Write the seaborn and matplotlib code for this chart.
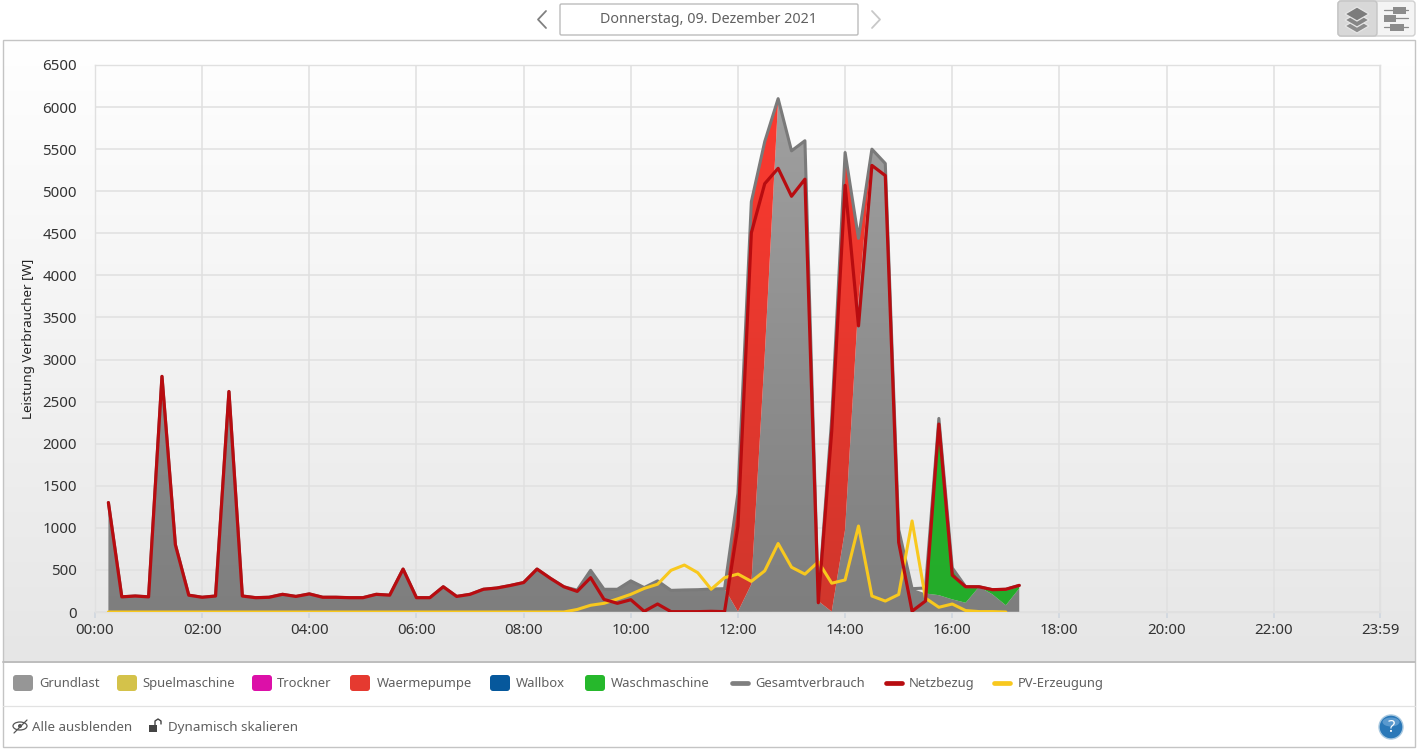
import numpy as np
import pandas as pd
import seaborn as sns
import matplotlib.pyplot as plt
from matplotlib.colors import LinearSegmentedColormap
from matplotlib.patches import FancyBboxPatch, Rectangle, Circle, Polygon, Ellipse

# 15 minute readings, 00:15 - 17:15
times = ["00:15", "00:30", "00:45", "01:00", "01:15", "01:30", "01:45", "02:00",
         "02:15", "02:30", "02:45", "03:00", "03:15", "03:30", "03:45", "04:00",
         "04:15", "04:30", "04:45", "05:00", "05:15", "05:30", "05:45", "06:00",
         "06:15", "06:30", "06:45", "07:00", "07:15", "07:30", "07:45", "08:00",
         "08:15", "08:30", "08:45", "09:00", "09:15", "09:30", "09:45", "10:00",
         "10:15", "10:30", "10:45", "11:00", "11:15", "11:30", "11:45", "12:00",
         "12:15", "12:30", "12:45", "13:00", "13:15", "13:30", "13:45", "14:00",
         "14:15", "14:30", "14:45", "15:00", "15:15", "15:30", "15:45", "16:00",
         "16:15", "16:30", "16:45", "17:00", "17:15"]

netzbezug = [1300, 180, 190, 180, 2800, 800, 200, 175,
             190, 2620, 190, 170, 175, 210, 185, 215,
             175, 175, 170, 170, 210, 200, 510, 170,
             170, 300, 185, 210, 270, 285, 315, 350,
             510, 400, 300, 245, 408, 150, 103, 146,
             8, 95, 4, 4, 4, 8, 4, 1020,
             4506, 5090, 5272, 4940, 5143, 110, 2150, 5070,
             3400, 5307, 5186, 827, 10, 130, 2233, 437,
             300, 300, 265, 270, 316]

gesamt = [1300, 180, 190, 180, 2800, 800, 200, 175,
          190, 2620, 190, 170, 175, 210, 185, 215,
          175, 175, 170, 170, 210, 200, 510, 170,
          170, 300, 185, 210, 270, 285, 315, 350,
          510, 400, 300, 260, 495, 270, 270, 370,
          290, 370, 257, 262, 265, 273, 277, 1410,
          4875, 5590, 6100, 5480, 5600, 130, 2300, 5460,
          4440, 5500, 5330, 980, 277, 285, 2300, 524,
          300, 300, 265, 270, 316]

grundlast = [1300, 180, 190, 180, 2800, 800, 200, 175,
             190, 2620, 190, 170, 175, 210, 185, 215,
             175, 175, 170, 170, 210, 200, 510, 170,
             170, 300, 185, 210, 270, 285, 315, 350,
             510, 400, 300, 260, 495, 270, 270, 370,
             290, 370, 257, 262, 265, 273, 277, 5,
             330, 3050, 6080, 5480, 5600, 130, 5, 980,
             3700, 5500, 5330, 980, 277, 220, 200, 150,
             110, 300, 210, 80, 280]

waermepumpe = [0, 0, 0, 0, 0, 0, 0, 0, 0, 0, 0, 0, 0, 0, 0, 0,
               0, 0, 0, 0, 0, 0, 0, 0, 0, 0, 0, 0, 0, 0, 0, 0,
               0, 0, 0, 0, 0, 0, 0, 0, 0, 0, 0, 0, 0, 0, 0, 1405,
               4545, 2540, 20, 0, 0, 0, 2295, 4480,
               740, 0, 0, 0, 0, 0, 0, 0,
               0, 0, 0, 0, 0]

waschmaschine = [0, 0, 0, 0, 0, 0, 0, 0, 0, 0, 0, 0, 0, 0, 0, 0,
                 0, 0, 0, 0, 0, 0, 0, 0, 0, 0, 0, 0, 0, 0, 0, 0,
                 0, 0, 0, 0, 0, 0, 0, 0, 0, 0, 0, 0, 0, 0, 0, 0,
                 0, 0, 0, 0, 0, 0, 0, 0,
                 0, 0, 0, 0, 0, 65, 2100, 374,
                 190, 0, 55, 190, 36]

# pv stops one reading earlier (17:00)
pv = [0, 0, 0, 0, 0, 0, 0, 0, 0, 0, 0, 0, 0, 0, 0, 0,
      0, 0, 0, 0, 0, 0, 0, 0, 0, 0, 0, 0, 0, 0, 0, 0,
      0, 0, 0, 30, 80, 103, 155, 210, 280, 330, 495, 558,
      467, 270, 408, 451, 364, 489, 814, 532, 450, 597, 342, 381,
      1022, 190, 130, 208, 1082, 165, 56, 95, 17, 5, 5, 0]

y_ticks = [0, 500, 1000, 1500, 2000, 2500, 3000, 3500, 4000, 4500, 5000, 5500, 6000, 6500]
x_tick_labels = ["00:00", "02:00", "04:00", "06:00", "08:00", "10:00", "12:00",
                 "14:00", "16:00", "18:00", "20:00", "22:00", "23:59"]

legend_names = ["Grundlast", "Spuelmaschine", "Trockner", "Waermepumpe", "Wallbox",
                "Waschmaschine", "Gesamtverbrauch", "Netzbezug", "PV-Erzeugung"]
legend_colors = ["#969696", "#d4c24a", "#dc10a8", "#e53a30", "#06589c",
                 "#26b82c", "#7f7f7f", "#b80c10", "#f8c81e"]


def to_min(t):
    h, m = t.split(":")
    return int(h) * 60 + int(m)


def gradient_area(ax, x, low, high, top_col, bottom_col, z):
    # fill_between only gives the outline, the colour is a clipped gradient
    poly = ax.fill_between(x, low, high, facecolor="none", edgecolor="none", zorder=z)
    cmap = LinearSegmentedColormap.from_list("g", [top_col, bottom_col])
    im = ax.imshow(np.linspace(0, 1, 256).reshape(-1, 1), extent=[0, 1439, 0, 6500],
                   aspect="auto", cmap=cmap, origin="upper", zorder=z)
    im.set_clip_path(poly.get_paths()[0], transform=ax.transData)


W, H = 1421, 755
sns.set_theme(style="whitegrid")
plt.rcParams["font.family"] = ["Noto Sans", "DejaVu Sans"]

fig = plt.figure(figsize=(W / 100, H / 100), dpi=100, facecolor="white")

# page furniture is drawn in pixel coordinates on a full size axes
ui = fig.add_axes([0, 0, 1, 1], zorder=0)
ui.set_xlim(0, W)
ui.set_ylim(H, 0)
ui.axis("off")

panel = LinearSegmentedColormap.from_list("panel", ["#ffffff", "#e6e6e6"])
ui.imshow(np.linspace(0, 1, 256).reshape(-1, 1), extent=[3, 1415, 662, 40],
          aspect="auto", cmap=panel, origin="upper", zorder=1)
ui.set_xlim(0, W)
ui.set_ylim(H, 0)
ui.add_patch(Rectangle((3, 40), 1412, 707, fill=False, ec="#c4c4c4", lw=1, zorder=3))
ui.plot([3, 1415], [662, 662], color="#bdbdbd", lw=1.4, zorder=3)
ui.plot([3, 1415], [706, 706], color="#e2e2e2", lw=0.9, zorder=3)

# date box with arrows
ui.add_patch(FancyBboxPatch((560, 4), 298, 31, boxstyle="round,pad=0,rounding_size=1.5",
                            fc="white", ec="#bcbcbc", lw=1, zorder=3))
ui.text(709, 19.5, "Donnerstag, 09. Dezember 2021", ha="center", va="center",
        fontsize=10.3, color="#606060", zorder=4)
ui.plot([546, 538, 546], [11, 19.5, 28], color="#808080", lw=1.3, zorder=4)
ui.plot([872, 880, 872], [11, 19.5, 28], color="#c8c8c8", lw=1.3, zorder=4)

# view switch, top right
ui.add_patch(FancyBboxPatch((1338, 1), 77, 35, boxstyle="round,pad=0,rounding_size=3",
                            fc="#f4f4f4", ec="#d0d0d0", lw=1, zorder=3))
ui.add_patch(FancyBboxPatch((1338, 1), 39, 35, boxstyle="round,pad=0,rounding_size=3",
                            fc="#d8d8d8", ec="#c4c4c4", lw=1, zorder=3))
for dy, c in zip([26, 20, 14], ["#8c8c8c", "#868686", "#7c7c7c"]):
    ui.add_patch(Polygon([[1345, dy], [1357, dy - 7], [1369, dy], [1357, dy + 7]],
                         closed=True, fc=c, ec="#e6e6e6", lw=0.9, zorder=4))
for yy, x0, x1 in [(10, 1393, 1406), (18, 1384, 1396), (27, 1390, 1404)]:
    ui.plot([1384, 1408], [yy, yy], color="#8a8a8a", lw=0.9, zorder=4)
    ui.add_patch(Rectangle((x0, yy - 3), x1 - x0, 6.5, fc="#8c8c8c", ec="none", zorder=5))

# legend row
swatch_x = [13, 117, 252, 350, 490, 585]
text_x = [39, 142, 277, 377, 516, 611, 755, 909, 1018]
line_x = [730, 884, 992]
for i, name in enumerate(legend_names):
    ui.text(text_x[i], 683.5, name, ha="left", va="center", fontsize=9.35,
            color="#606060", zorder=4)
    if i < 6:
        ui.add_patch(FancyBboxPatch((swatch_x[i], 675), 20, 16,
                                    boxstyle="round,pad=0,rounding_size=3",
                                    fc=legend_colors[i], ec="none", zorder=4))
    else:
        lx = line_x[i - 6]
        ui.plot([lx + 2, lx + 18], [683, 683], color=legend_colors[i], lw=3.4,
                solid_capstyle="round", zorder=4)

# bottom row
ui.text(32, 727.5, "Alle ausblenden", ha="left", va="center", fontsize=9.6, color="#606060", zorder=4)
ui.text(168, 727.5, "Dynamisch skalieren", ha="left", va="center", fontsize=9.7, color="#606060", zorder=4)
ui.add_patch(Ellipse((20, 726), 14, 8, fill=False, ec="#555555", lw=0.9, zorder=4))
ui.add_patch(Circle((20, 726), 2, fc="#555555", ec="none", zorder=4))
ui.plot([14, 27], [733, 720], color="#555555", lw=0.9, zorder=4)
ui.add_patch(Rectangle((149, 725), 8, 7, fc="#444444", ec="none", zorder=4))
ui.plot([155, 155, 158, 161, 161], [725, 721, 719, 721, 724], color="#444444", lw=1, zorder=4)
ui.add_patch(Circle((1391, 727), 12, fc="#2a78b8", ec="#a8c8e0", lw=1, zorder=4))
ui.add_patch(Ellipse((1391, 722), 17, 9, fc="#6fa8d8", ec="none", alpha=0.7, zorder=5))
ui.text(1391, 727.5, "?", ha="center", va="center", fontsize=12, fontweight="bold",
        color="white", zorder=6)

# the chart itself
ax = fig.add_axes([95 / W, 1 - 612 / H, (1380 - 95) / W, (612 - 65) / H], zorder=2)
ax.patch.set_alpha(0)

x = np.array([to_min(t) for t in times])
gl = np.array(grundlast)
wp = np.array(waermepumpe)
wm = np.array(waschmaschine)

gradient_area(ax, x, 0, gl, "#a2a2a2", "#7e7e7e", 2)
red_on = wp > 0
red_on[1:] |= wp[:-1] > 0
red_on[:-1] |= wp[1:] > 0
gradient_area(ax, x[red_on], gl[red_on], (gl + wp)[red_on], "#ff3a30", "#d0362c", 3)
green_on = wm > 0
green_on[1:] |= wm[:-1] > 0
gradient_area(ax, x[green_on], gl[green_on], (gl + wm)[green_on], "#26b82c", "#24ac2a", 3)

lines = pd.DataFrame({"min": x, "gesamt": gesamt, "netz": netzbezug})
pv_df = pd.DataFrame({"min": x[:len(pv)], "pv": pv})
sns.lineplot(data=lines, x="min", y="gesamt", color="#7a7a7a", lw=2.2, ax=ax, zorder=4, estimator=None)
sns.lineplot(data=pv_df, x="min", y="pv", color="#f8c81e", lw=2.2, ax=ax, zorder=5, estimator=None)
sns.lineplot(data=lines, x="min", y="netz", color="#b80c10", lw=2.3, ax=ax, zorder=6, estimator=None)

ax.set_xlim(0, 1439)
ax.set_ylim(0, 6500)
ax.set_xticks([to_min(t) for t in x_tick_labels])
ax.set_xticklabels(x_tick_labels)
ax.set_yticks(y_ticks)
ax.grid(True, color="#e0e0e0", lw=1.1)
ax.set_axisbelow(True)
for s in ax.spines.values():
    s.set_color("#e0e0e0")
    s.set_linewidth(1)
ax.tick_params(axis="x", length=4, color="#d0d8e0", labelsize=10.8, labelcolor="#333333", pad=4, bottom=True)
ax.tick_params(axis="y", length=0, labelsize=10.8, labelcolor="#333333", pad=13)
ax.set_xlabel("")
ax.set_ylabel("Leistung Verbraucher [W]", fontsize=9.6, color="#222222")
ax.yaxis.set_label_coords(-0.0465, 0.5)

fig.savefig("out.png", dpi=100)
